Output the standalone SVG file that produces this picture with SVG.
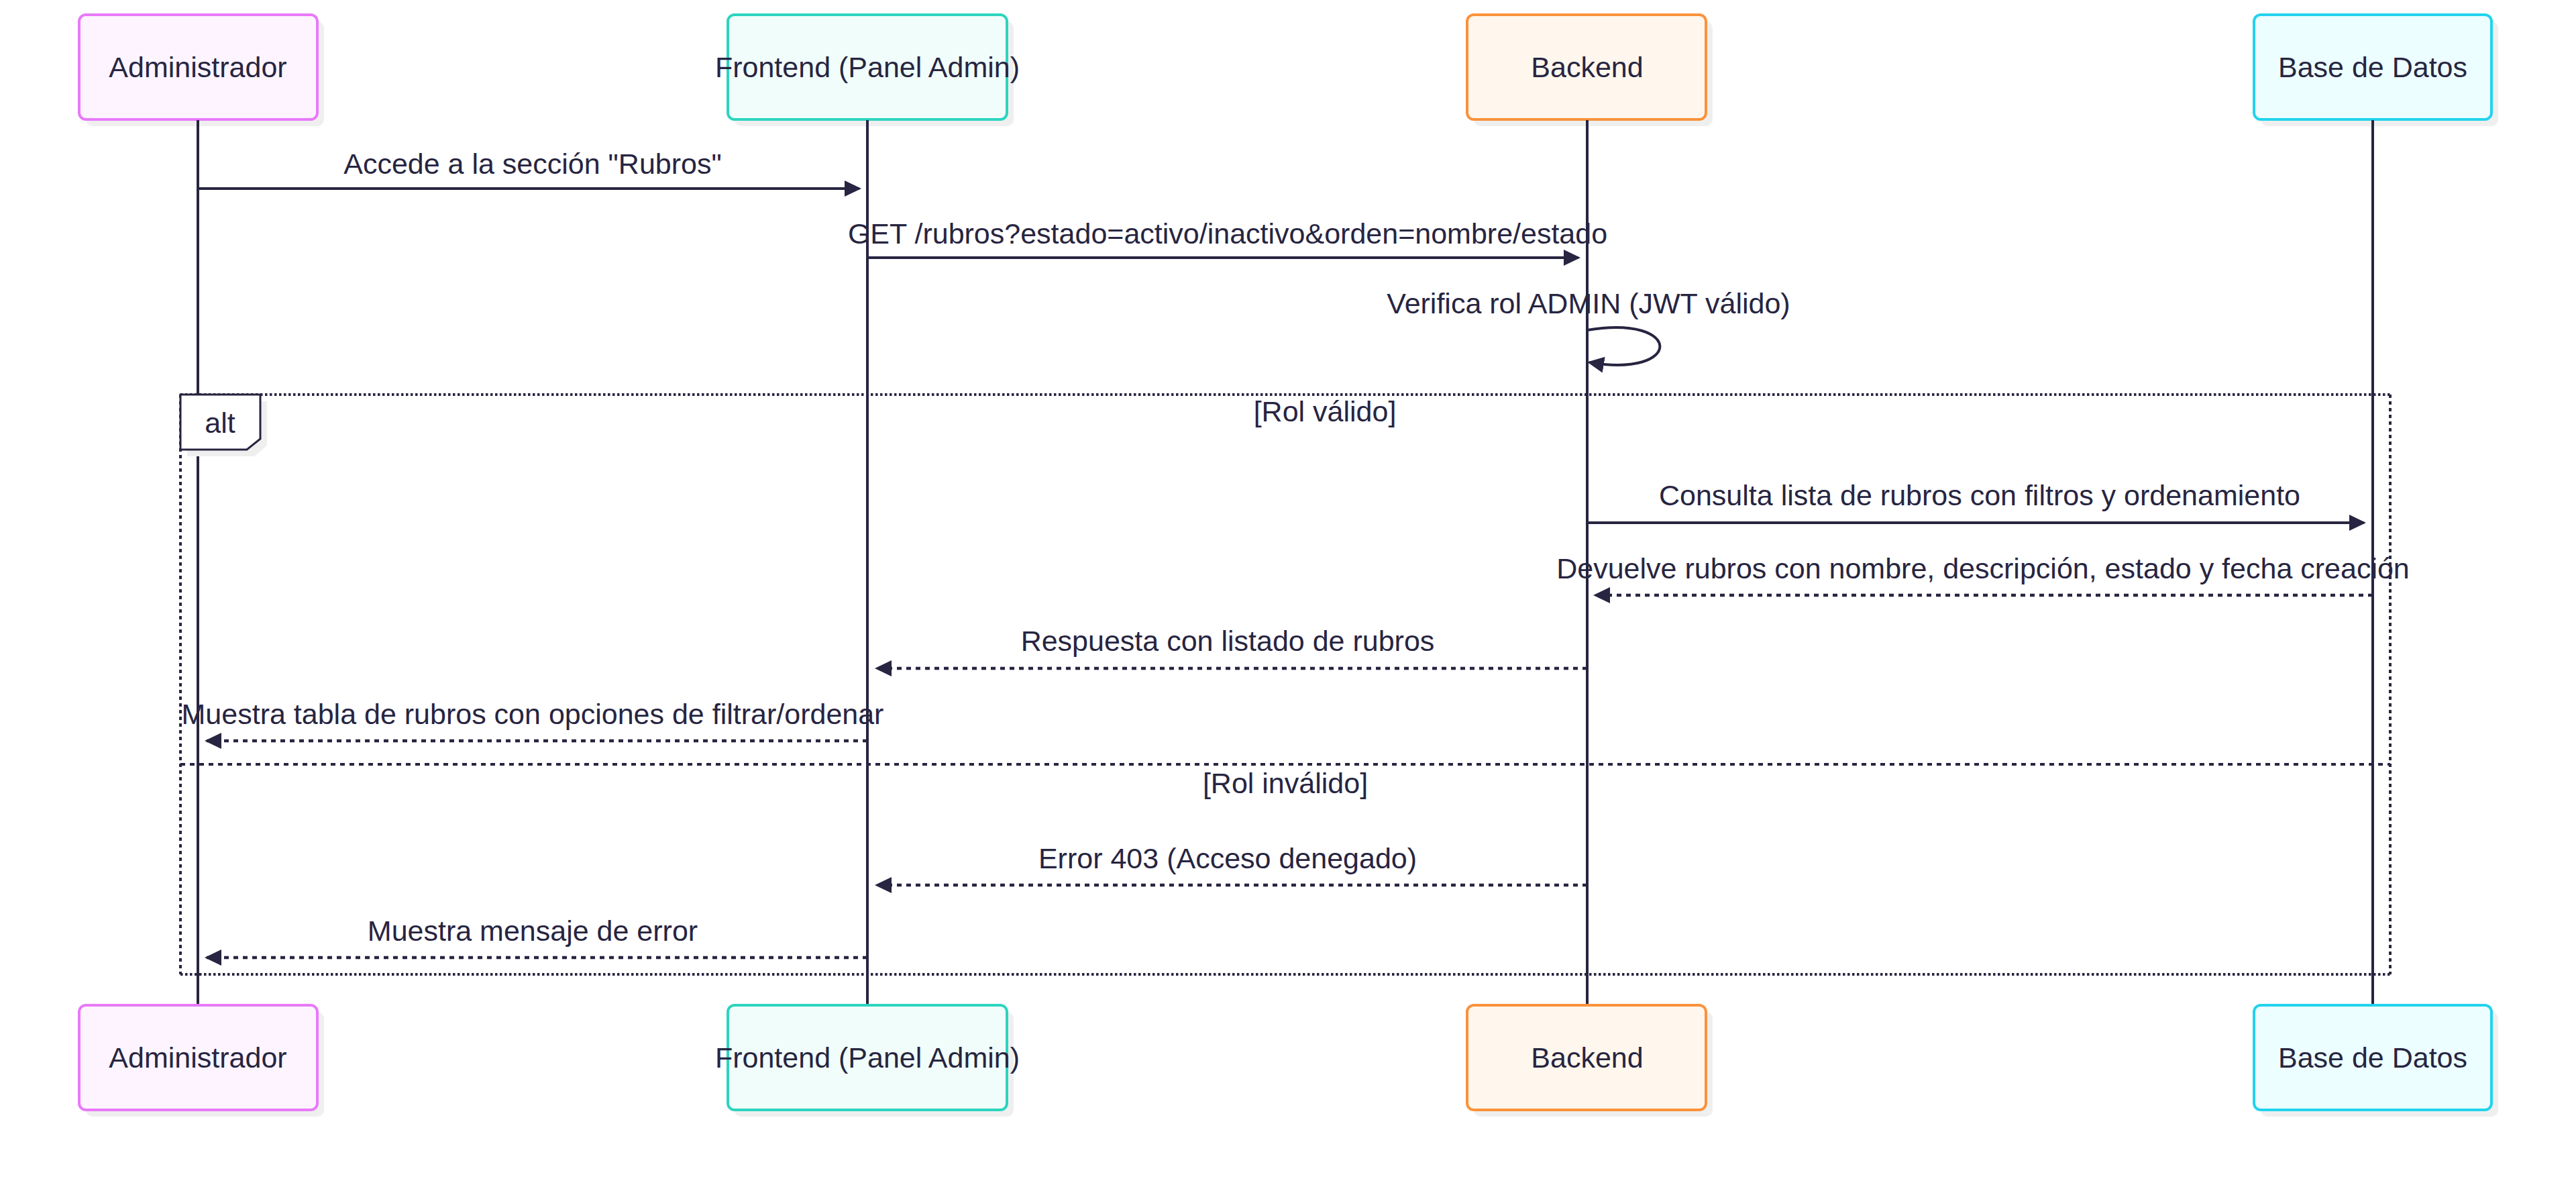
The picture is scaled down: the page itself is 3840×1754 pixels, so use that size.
<svg xmlns="http://www.w3.org/2000/svg" width="3840" height="1754" viewBox="0 0 3840 1754">
  <style>
    text { font-family: "Liberation Sans", Arial, sans-serif; font-size: 43px; fill: #272541; }
    .mid { text-anchor: middle; }
    .shadow { fill: #efefef; }
    .lifeline { stroke: #272541; stroke-width: 4; fill: none; }
    .msg { stroke: #272541; stroke-width: 4; fill: none; marker-end: url(#head); }
    .reply { stroke: #272541; stroke-width: 4.5; fill: none; stroke-dasharray: 7 7; marker-end: url(#head); }
    .frame-edge { stroke: #272541; stroke-width: 4; fill: none; stroke-dasharray: 3.5 3.5; }
    .frame-side { stroke: #272541; stroke-width: 4; fill: none; stroke-dasharray: 5 5; }
    .frame-split { stroke: #272541; stroke-width: 4; fill: none; stroke-dasharray: 7 7; }
    .admin rect.box { fill: #fdf4ff; stroke: #e879f9; stroke-width: 4; }
    .front rect.box { fill: #f0fdfa; stroke: #2dd4bf; stroke-width: 4; }
    .back rect.box { fill: #fff7ed; stroke: #fb923c; stroke-width: 4; }
    .db rect.box { fill: #ecfeff; stroke: #22d3ee; stroke-width: 4; }
  </style>
  <defs>
    <marker id="head" markerUnits="userSpaceOnUse" viewBox="0 0 25 24" refX="22" refY="12" markerWidth="25" markerHeight="24" orient="auto">
      <path d="M0,0 L25,12 L0,24 Z" fill="#272541"/>
    </marker>
  </defs>

  <rect width="3840" height="1754" fill="#ffffff"/>

  <!-- participants, top row -->
  <g id="actor-admin-top" class="admin">
    <rect class="shadow" x="128" y="32" width="355" height="156" rx="10"/>
    <rect class="box" x="118" y="22" width="355" height="156" rx="10"/>
    <text class="mid" x="295" y="115">Administrador</text>
  </g>
  <g id="actor-frontend-top" class="front">
    <rect class="shadow" x="1095" y="32" width="416" height="156" rx="10"/>
    <rect class="box" x="1085" y="22" width="416" height="156" rx="10"/>
    <text class="mid" x="1293" y="115">Frontend (Panel Admin)</text>
  </g>
  <g id="actor-backend-top" class="back">
    <rect class="shadow" x="2197" y="32" width="356" height="156" rx="10"/>
    <rect class="box" x="2187" y="22" width="356" height="156" rx="10"/>
    <text class="mid" x="2366" y="115">Backend</text>
  </g>
  <g id="actor-db-top" class="db">
    <rect class="shadow" x="3370" y="32" width="354" height="156" rx="10"/>
    <rect class="box" x="3360" y="22" width="354" height="156" rx="10"/>
    <text class="mid" x="3537" y="115">Base de Datos</text>
  </g>

  <!-- lifelines, drawn over the box shadows -->
  <g id="lifelines">
    <line class="lifeline" x1="295" y1="179" x2="295" y2="1498"/>
    <line class="lifeline" x1="1293" y1="179" x2="1293" y2="1498"/>
    <line class="lifeline" x1="2366" y1="179" x2="2366" y2="1498"/>
    <line class="lifeline" x1="3537" y1="179" x2="3537" y2="1498"/>
  </g>

  <!-- alt frame -->
  <g id="alt-frame">
    <line class="frame-edge" x1="269" y1="588" x2="3563" y2="588"/>
    <line class="frame-edge" x1="269" y1="1452" x2="3563" y2="1452"/>
    <line class="frame-side" x1="269" y1="588" x2="269" y2="1452"/>
    <line class="frame-side" x1="3563" y1="588" x2="3563" y2="1452"/>
    <line class="frame-split" x1="269" y1="1139" x2="3563" y2="1139"/>
    <polygon class="shadow" points="279,598 398,598 398,664 379,680 279,680"/>
    <polygon points="269,588 388,588 388,654 368,670 269,670" fill="#ffffff" stroke="#272541" stroke-width="3"/>
    <text class="mid" x="328" y="645">alt</text>
    <text class="mid" x="1975" y="628">[Rol válido]</text>
    <text class="mid" x="1916" y="1182">[Rol inválido]</text>
  </g>

  <!-- messages -->
  <g id="connectors">
    <line class="msg" x1="295" y1="281" x2="1281" y2="281"/>
    <text class="mid" x="794" y="259">Accede a la sección "Rubros"</text>

    <line class="msg" x1="1293" y1="384" x2="2353" y2="384"/>
    <text class="mid" x="1830" y="363">GET /rubros?estado=activo/inactivo&amp;orden=nombre/estado</text>

    <path class="msg" d="M2366,492 C2510,468 2510,564 2369,540"/>
    <text class="mid" x="2368" y="467">Verifica rol ADMIN (JWT válido)</text>

    <line class="msg" x1="2366" y1="779" x2="3524" y2="779"/>
    <text class="mid" x="2951" y="753">Consulta lista de rubros con filtros y ordenamiento</text>

    <line class="reply" x1="3537" y1="887" x2="2378" y2="887"/>
    <text class="mid" x="2956" y="862">Devuelve rubros con nombre, descripción, estado y fecha creación</text>

    <line class="reply" x1="2366" y1="996" x2="1307" y2="996"/>
    <text class="mid" x="1830" y="970">Respuesta con listado de rubros</text>

    <line class="reply" x1="1293" y1="1104" x2="308" y2="1104"/>
    <text class="mid" x="794" y="1079">Muestra tabla de rubros con opciones de filtrar/ordenar</text>

    <line class="reply" x1="2366" y1="1319" x2="1307" y2="1319"/>
    <text class="mid" x="1830" y="1294">Error 403 (Acceso denegado)</text>

    <line class="reply" x1="1293" y1="1427" x2="308" y2="1427"/>
    <text class="mid" x="794" y="1402">Muestra mensaje de error</text>
  </g>

  <!-- participants, bottom row -->
  <g id="actor-admin-bottom" class="admin">
    <rect class="shadow" x="128" y="1508" width="355" height="156" rx="10"/>
    <rect class="box" x="118" y="1498" width="355" height="156" rx="10"/>
    <text class="mid" x="295" y="1591">Administrador</text>
  </g>
  <g id="actor-frontend-bottom" class="front">
    <rect class="shadow" x="1095" y="1508" width="416" height="156" rx="10"/>
    <rect class="box" x="1085" y="1498" width="416" height="156" rx="10"/>
    <text class="mid" x="1293" y="1591">Frontend (Panel Admin)</text>
  </g>
  <g id="actor-backend-bottom" class="back">
    <rect class="shadow" x="2197" y="1508" width="356" height="156" rx="10"/>
    <rect class="box" x="2187" y="1498" width="356" height="156" rx="10"/>
    <text class="mid" x="2366" y="1591">Backend</text>
  </g>
  <g id="actor-db-bottom" class="db">
    <rect class="shadow" x="3370" y="1508" width="354" height="156" rx="10"/>
    <rect class="box" x="3360" y="1498" width="354" height="156" rx="10"/>
    <text class="mid" x="3537" y="1591">Base de Datos</text>
  </g>
</svg>
